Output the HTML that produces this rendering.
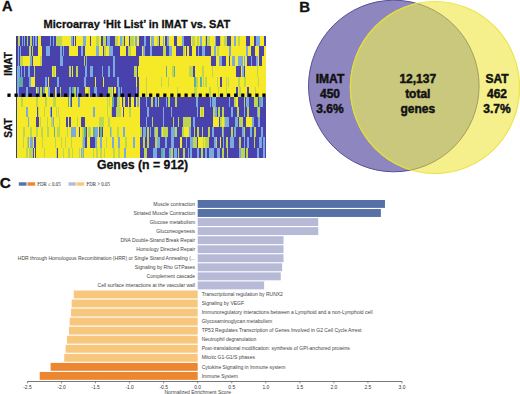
<!DOCTYPE html>
<html><head><meta charset="utf-8"><style>
html,body{margin:0;padding:0;background:#fff;}
body{width:520px;height:394px;overflow:hidden;position:relative;font-family:"Liberation Sans",sans-serif;}
.ab{position:absolute;white-space:nowrap;}
.lb{font-family:"Liberation Sans",sans-serif;font-size:5.02px;fill:#444;}
.tk{font-family:"Liberation Sans",sans-serif;font-size:4.9px;fill:#333;}
svg text{white-space:pre;}
</style></head><body>
<svg width="520" height="394" viewBox="0 0 520 394" style="position:absolute;left:0;top:0">
<g font-family="Liberation Sans" font-weight="bold" fill="#111" stroke="#111" stroke-width="0.3">
<text x="2.1" y="11.4" font-size="14.6">A</text>
<text x="299.2" y="11.9" font-size="15">B</text>
<text x="-0.2" y="187.6" font-size="15.3">C</text>
<text x="136.9" y="27.5" font-size="11" text-anchor="middle">Microarray ‘Hit List’ in IMAT vs. SAT</text>
<text x="142.6" y="169.4" font-size="12.3" text-anchor="middle">Genes (n = 912)</text>
<text transform="translate(12,64) rotate(-90)" font-size="10" text-anchor="middle">IMAT</text>
<text transform="translate(12.2,128) rotate(-90)" font-size="10" text-anchor="middle">SAT</text>
</g>
<g id="heat" shape-rendering="crispEdges">
<rect x="16.2" y="36.0" width="249.3" height="121.69999999999999" fill="#4a42ac"/>
<rect x="17.7" y="36.00" width="2.5" height="10.14" fill="#bcd652"/>
<rect x="22.2" y="36.00" width="1.0" height="10.14" fill="#7aaade"/>
<rect x="23.7" y="36.00" width="1.0" height="10.14" fill="#7aaade"/>
<rect x="26.7" y="36.00" width="1.5" height="10.14" fill="#bcd652"/>
<rect x="30.2" y="36.00" width="1.5" height="10.14" fill="#bcd652"/>
<rect x="32.7" y="36.00" width="1.5" height="10.14" fill="#7aaade"/>
<rect x="35.2" y="36.00" width="1.5" height="10.14" fill="#7aaade"/>
<rect x="38.2" y="36.00" width="1.5" height="10.14" fill="#f6ea28"/>
<rect x="40.2" y="36.00" width="1.0" height="10.14" fill="#f6ea28"/>
<rect x="49.7" y="36.00" width="1.5" height="10.14" fill="#7aaade"/>
<rect x="52.7" y="36.00" width="1.5" height="10.14" fill="#7aaade"/>
<rect x="56.2" y="36.00" width="5.5" height="10.14" fill="#bcd652"/>
<rect x="62.2" y="36.00" width="9.0" height="10.14" fill="#f6ea28"/>
<rect x="71.2" y="36.00" width="1.5" height="10.14" fill="#7aaade"/>
<rect x="72.7" y="36.00" width="0.5" height="10.14" fill="#f6ea28"/>
<rect x="73.7" y="36.00" width="1.5" height="10.14" fill="#f6ea28"/>
<rect x="76.2" y="36.00" width="7.0" height="10.14" fill="#f6ea28"/>
<rect x="83.2" y="36.00" width="2.5" height="10.14" fill="#7aaade"/>
<rect x="85.7" y="36.00" width="4.0" height="10.14" fill="#f6ea28"/>
<rect x="91.2" y="36.00" width="4.5" height="10.14" fill="#f6ea28"/>
<rect x="96.2" y="36.00" width="2.5" height="10.14" fill="#bcd652"/>
<rect x="99.2" y="36.00" width="2.0" height="10.14" fill="#f6ea28"/>
<rect x="103.2" y="36.00" width="3.0" height="10.14" fill="#bcd652"/>
<rect x="106.7" y="36.00" width="3.5" height="10.14" fill="#7aaade"/>
<rect x="115.2" y="36.00" width="3.0" height="10.14" fill="#bcd652"/>
<rect x="118.2" y="36.00" width="1.5" height="10.14" fill="#f6ea28"/>
<rect x="119.7" y="36.00" width="2.0" height="10.14" fill="#7aaade"/>
<rect x="121.7" y="36.00" width="2.0" height="10.14" fill="#bcd652"/>
<rect x="124.7" y="36.00" width="4.5" height="10.14" fill="#f6ea28"/>
<rect x="129.7" y="36.00" width="4.0" height="10.14" fill="#bcd652"/>
<rect x="133.7" y="36.00" width="1.5" height="10.14" fill="#f6ea28"/>
<rect x="135.2" y="36.00" width="1.5" height="10.14" fill="#7aaade"/>
<rect x="136.7" y="36.00" width="2.0" height="10.14" fill="#f6ea28"/>
<rect x="143.7" y="36.00" width="2.5" height="10.14" fill="#7aaade"/>
<rect x="149.7" y="36.00" width="1.0" height="10.14" fill="#f6ea28"/>
<rect x="150.7" y="36.00" width="3.0" height="10.14" fill="#7aaade"/>
<rect x="153.7" y="36.00" width="3.5" height="10.14" fill="#f6ea28"/>
<rect x="157.2" y="36.00" width="2.0" height="10.14" fill="#bcd652"/>
<rect x="160.2" y="36.00" width="2.5" height="10.14" fill="#f6ea28"/>
<rect x="162.7" y="36.00" width="1.5" height="10.14" fill="#7aaade"/>
<rect x="164.2" y="36.00" width="0.5" height="10.14" fill="#f6ea28"/>
<rect x="166.7" y="36.00" width="2.0" height="10.14" fill="#7aaade"/>
<rect x="168.7" y="36.00" width="5.5" height="10.14" fill="#f6ea28"/>
<rect x="177.2" y="36.00" width="5.0" height="10.14" fill="#f6ea28"/>
<rect x="182.2" y="36.00" width="2.0" height="10.14" fill="#7aaade"/>
<rect x="190.7" y="36.00" width="1.5" height="10.14" fill="#f6ea28"/>
<rect x="192.2" y="36.00" width="3.0" height="10.14" fill="#bcd652"/>
<rect x="195.2" y="36.00" width="1.5" height="10.14" fill="#f6ea28"/>
<rect x="196.7" y="36.00" width="2.5" height="10.14" fill="#bcd652"/>
<rect x="199.2" y="36.00" width="1.0" height="10.14" fill="#f6ea28"/>
<rect x="200.2" y="36.00" width="2.0" height="10.14" fill="#7aaade"/>
<rect x="202.2" y="36.00" width="3.0" height="10.14" fill="#f6ea28"/>
<rect x="205.2" y="36.00" width="0.5" height="10.14" fill="#bcd652"/>
<rect x="206.7" y="36.00" width="3.0" height="10.14" fill="#bcd652"/>
<rect x="209.7" y="36.00" width="5.0" height="10.14" fill="#f6ea28"/>
<rect x="214.7" y="36.00" width="1.5" height="10.14" fill="#7aaade"/>
<rect x="220.2" y="36.00" width="1.0" height="10.14" fill="#bcd652"/>
<rect x="221.2" y="36.00" width="2.5" height="10.14" fill="#f6ea28"/>
<rect x="223.7" y="36.00" width="3.0" height="10.14" fill="#bcd652"/>
<rect x="226.7" y="36.00" width="0.5" height="10.14" fill="#f6ea28"/>
<rect x="230.7" y="36.00" width="3.0" height="10.14" fill="#f6ea28"/>
<rect x="233.7" y="36.00" width="2.0" height="10.14" fill="#7aaade"/>
<rect x="235.7" y="36.00" width="2.0" height="10.14" fill="#f6ea28"/>
<rect x="237.7" y="36.00" width="2.0" height="10.14" fill="#bcd652"/>
<rect x="239.7" y="36.00" width="6.0" height="10.14" fill="#f6ea28"/>
<rect x="249.7" y="36.00" width="4.0" height="10.14" fill="#f6ea28"/>
<rect x="256.2" y="36.00" width="4.0" height="10.14" fill="#7aaade"/>
<rect x="260.2" y="36.00" width="4.0" height="10.14" fill="#f6ea28"/>
<rect x="17.7" y="46.14" width="1.5" height="10.14" fill="#7aaade"/>
<rect x="19.7" y="46.14" width="1.5" height="10.14" fill="#7aaade"/>
<rect x="29.2" y="46.14" width="1.5" height="10.14" fill="#bcd652"/>
<rect x="31.7" y="46.14" width="1.5" height="10.14" fill="#bcd652"/>
<rect x="38.2" y="46.14" width="1.5" height="10.14" fill="#f6ea28"/>
<rect x="40.2" y="46.14" width="1.5" height="10.14" fill="#f6ea28"/>
<rect x="46.2" y="46.14" width="1.5" height="10.14" fill="#7aaade"/>
<rect x="48.2" y="46.14" width="1.5" height="10.14" fill="#7aaade"/>
<rect x="60.2" y="46.14" width="1.5" height="10.14" fill="#7aaade"/>
<rect x="62.7" y="46.14" width="1.5" height="10.14" fill="#7aaade"/>
<rect x="69.2" y="46.14" width="8.5" height="10.14" fill="#f6ea28"/>
<rect x="81.2" y="46.14" width="1.5" height="10.14" fill="#7aaade"/>
<rect x="85.2" y="46.14" width="10.5" height="10.14" fill="#f6ea28"/>
<rect x="96.2" y="46.14" width="2.5" height="10.14" fill="#7aaade"/>
<rect x="99.2" y="46.14" width="3.5" height="10.14" fill="#f6ea28"/>
<rect x="104.2" y="46.14" width="1.5" height="10.14" fill="#bcd652"/>
<rect x="106.2" y="46.14" width="3.0" height="10.14" fill="#f6ea28"/>
<rect x="109.2" y="46.14" width="1.5" height="10.14" fill="#7aaade"/>
<rect x="111.2" y="46.14" width="1.5" height="10.14" fill="#7aaade"/>
<rect x="119.7" y="46.14" width="6.0" height="10.14" fill="#f6ea28"/>
<rect x="127.7" y="46.14" width="3.0" height="10.14" fill="#bcd652"/>
<rect x="131.2" y="46.14" width="5.0" height="10.14" fill="#f6ea28"/>
<rect x="142.2" y="46.14" width="0.5" height="10.14" fill="#f6ea28"/>
<rect x="142.7" y="46.14" width="2.0" height="10.14" fill="#7aaade"/>
<rect x="149.7" y="46.14" width="0.5" height="10.14" fill="#f6ea28"/>
<rect x="150.2" y="46.14" width="1.5" height="10.14" fill="#7aaade"/>
<rect x="162.7" y="46.14" width="0.5" height="10.14" fill="#f6ea28"/>
<rect x="163.2" y="46.14" width="2.5" height="10.14" fill="#bcd652"/>
<rect x="168.7" y="46.14" width="0.5" height="10.14" fill="#f6ea28"/>
<rect x="169.2" y="46.14" width="2.5" height="10.14" fill="#7aaade"/>
<rect x="171.7" y="46.14" width="4.5" height="10.14" fill="#f6ea28"/>
<rect x="182.7" y="46.14" width="2.5" height="10.14" fill="#bcd652"/>
<rect x="185.2" y="46.14" width="1.0" height="10.14" fill="#f6ea28"/>
<rect x="187.2" y="46.14" width="1.5" height="10.14" fill="#f6ea28"/>
<rect x="192.2" y="46.14" width="4.0" height="10.14" fill="#f6ea28"/>
<rect x="197.7" y="46.14" width="1.0" height="10.14" fill="#7aaade"/>
<rect x="202.2" y="46.14" width="2.5" height="10.14" fill="#7aaade"/>
<rect x="211.2" y="46.14" width="2.5" height="10.14" fill="#f6ea28"/>
<rect x="213.7" y="46.14" width="2.0" height="10.14" fill="#7aaade"/>
<rect x="215.7" y="46.14" width="1.0" height="10.14" fill="#f6ea28"/>
<rect x="216.7" y="46.14" width="2.0" height="10.14" fill="#bcd652"/>
<rect x="218.7" y="46.14" width="10.5" height="10.14" fill="#f6ea28"/>
<rect x="229.2" y="46.14" width="1.5" height="10.14" fill="#7aaade"/>
<rect x="230.7" y="46.14" width="15.5" height="10.14" fill="#f6ea28"/>
<rect x="246.2" y="46.14" width="1.5" height="10.14" fill="#7aaade"/>
<rect x="247.7" y="46.14" width="3.5" height="10.14" fill="#f6ea28"/>
<rect x="254.7" y="46.14" width="4.0" height="10.14" fill="#f6ea28"/>
<rect x="264.2" y="46.14" width="1.5" height="10.14" fill="#f6ea28"/>
<rect x="17.7" y="56.28" width="1.5" height="10.14" fill="#7aaade"/>
<rect x="19.7" y="56.28" width="3.0" height="10.14" fill="#bcd652"/>
<rect x="22.7" y="56.28" width="7.0" height="10.14" fill="#f6ea28"/>
<rect x="29.7" y="56.28" width="2.0" height="10.14" fill="#7aaade"/>
<rect x="33.2" y="56.28" width="7.0" height="10.14" fill="#f6ea28"/>
<rect x="40.2" y="56.28" width="2.0" height="10.14" fill="#bcd652"/>
<rect x="60.2" y="56.28" width="2.5" height="10.14" fill="#7aaade"/>
<rect x="83.7" y="56.28" width="1.5" height="10.14" fill="#bcd652"/>
<rect x="85.7" y="56.28" width="1.5" height="10.14" fill="#7aaade"/>
<rect x="113.2" y="56.28" width="1.5" height="10.14" fill="#7aaade"/>
<rect x="138.7" y="56.28" width="72.5" height="10.14" fill="#f6ea28"/>
<rect x="215.7" y="56.28" width="3.5" height="10.14" fill="#f6ea28"/>
<rect x="219.2" y="56.28" width="3.0" height="10.14" fill="#7aaade"/>
<rect x="226.2" y="56.28" width="3.0" height="10.14" fill="#f6ea28"/>
<rect x="230.2" y="56.28" width="1.5" height="10.14" fill="#f6ea28"/>
<rect x="231.7" y="56.28" width="3.5" height="10.14" fill="#7aaade"/>
<rect x="235.2" y="56.28" width="2.5" height="10.14" fill="#f6ea28"/>
<rect x="237.7" y="56.28" width="2.0" height="10.14" fill="#7aaade"/>
<rect x="239.7" y="56.28" width="0.5" height="10.14" fill="#f6ea28"/>
<rect x="240.2" y="56.28" width="2.5" height="10.14" fill="#7aaade"/>
<rect x="242.7" y="56.28" width="1.0" height="10.14" fill="#f6ea28"/>
<rect x="243.7" y="56.28" width="1.5" height="10.14" fill="#7aaade"/>
<rect x="245.2" y="56.28" width="2.0" height="10.14" fill="#f6ea28"/>
<rect x="251.2" y="56.28" width="1.0" height="10.14" fill="#7aaade"/>
<rect x="255.7" y="56.28" width="2.0" height="10.14" fill="#7aaade"/>
<rect x="257.7" y="56.28" width="1.0" height="10.14" fill="#f6ea28"/>
<rect x="262.2" y="56.28" width="3.5" height="10.14" fill="#f6ea28"/>
<rect x="17.2" y="66.42" width="2.5" height="10.14" fill="#7aaade"/>
<rect x="20.7" y="66.42" width="1.0" height="10.14" fill="#7aaade"/>
<rect x="23.7" y="66.42" width="1.0" height="10.14" fill="#7aaade"/>
<rect x="27.7" y="66.42" width="2.5" height="10.14" fill="#7aaade"/>
<rect x="33.7" y="66.42" width="1.0" height="10.14" fill="#bcd652"/>
<rect x="51.7" y="66.42" width="1.0" height="10.14" fill="#f6ea28"/>
<rect x="52.7" y="66.42" width="2.0" height="10.14" fill="#bcd652"/>
<rect x="54.7" y="66.42" width="1.0" height="10.14" fill="#f6ea28"/>
<rect x="69.2" y="66.42" width="2.0" height="10.14" fill="#bcd652"/>
<rect x="72.2" y="66.42" width="1.0" height="10.14" fill="#f6ea28"/>
<rect x="76.2" y="66.42" width="1.5" height="10.14" fill="#bcd652"/>
<rect x="85.2" y="66.42" width="2.0" height="10.14" fill="#7aaade"/>
<rect x="90.2" y="66.42" width="3.0" height="10.14" fill="#7aaade"/>
<rect x="102.2" y="66.42" width="1.0" height="10.14" fill="#7aaade"/>
<rect x="108.2" y="66.42" width="1.5" height="10.14" fill="#7aaade"/>
<rect x="113.2" y="66.42" width="1.5" height="10.14" fill="#7aaade"/>
<rect x="134.2" y="66.42" width="3.0" height="10.14" fill="#bcd652"/>
<rect x="138.2" y="66.42" width="27.5" height="10.14" fill="#f6ea28"/>
<rect x="165.7" y="66.42" width="1.5" height="10.14" fill="#60aca0"/>
<rect x="167.2" y="66.42" width="5.0" height="10.14" fill="#f6ea28"/>
<rect x="172.2" y="66.42" width="1.5" height="10.14" fill="#bcd652"/>
<rect x="173.7" y="66.42" width="0.5" height="10.14" fill="#f6ea28"/>
<rect x="174.2" y="66.42" width="1.0" height="10.14" fill="#60aca0"/>
<rect x="175.2" y="66.42" width="13.5" height="10.14" fill="#f6ea28"/>
<rect x="188.7" y="66.42" width="4.0" height="10.14" fill="#bcd652"/>
<rect x="195.2" y="66.42" width="6.5" height="10.14" fill="#f6ea28"/>
<rect x="201.7" y="66.42" width="2.5" height="10.14" fill="#bcd652"/>
<rect x="204.2" y="66.42" width="7.5" height="10.14" fill="#f6ea28"/>
<rect x="211.7" y="66.42" width="1.5" height="10.14" fill="#bcd652"/>
<rect x="213.2" y="66.42" width="23.0" height="10.14" fill="#f6ea28"/>
<rect x="241.2" y="66.42" width="0.5" height="10.14" fill="#f6ea28"/>
<rect x="241.7" y="66.42" width="2.0" height="10.14" fill="#7aaade"/>
<rect x="245.2" y="66.42" width="11.5" height="10.14" fill="#f6ea28"/>
<rect x="256.7" y="66.42" width="1.5" height="10.14" fill="#bcd652"/>
<rect x="258.2" y="66.42" width="7.5" height="10.14" fill="#f6ea28"/>
<rect x="17.2" y="76.57" width="1.5" height="10.14" fill="#7aaade"/>
<rect x="19.2" y="76.57" width="3.5" height="10.14" fill="#60aca0"/>
<rect x="29.2" y="76.57" width="1.5" height="10.14" fill="#7aaade"/>
<rect x="31.2" y="76.57" width="3.5" height="10.14" fill="#f6ea28"/>
<rect x="45.2" y="76.57" width="1.5" height="10.14" fill="#7aaade"/>
<rect x="47.7" y="76.57" width="1.5" height="10.14" fill="#f6ea28"/>
<rect x="56.7" y="76.57" width="2.0" height="10.14" fill="#7aaade"/>
<rect x="83.7" y="76.57" width="2.0" height="10.14" fill="#7aaade"/>
<rect x="94.7" y="76.57" width="1.5" height="10.14" fill="#f6ea28"/>
<rect x="102.7" y="76.57" width="1.5" height="10.14" fill="#f6ea28"/>
<rect x="117.2" y="76.57" width="2.0" height="10.14" fill="#7aaade"/>
<rect x="136.2" y="76.57" width="0.5" height="10.14" fill="#f6ea28"/>
<rect x="138.7" y="76.57" width="7.0" height="10.14" fill="#f6ea28"/>
<rect x="145.7" y="76.57" width="1.0" height="10.14" fill="#bcd652"/>
<rect x="146.7" y="76.57" width="14.0" height="10.14" fill="#f6ea28"/>
<rect x="160.7" y="76.57" width="1.5" height="10.14" fill="#bcd652"/>
<rect x="162.2" y="76.57" width="5.5" height="10.14" fill="#f6ea28"/>
<rect x="167.7" y="76.57" width="1.5" height="10.14" fill="#bcd652"/>
<rect x="169.2" y="76.57" width="25.0" height="10.14" fill="#f6ea28"/>
<rect x="194.2" y="76.57" width="2.0" height="10.14" fill="#60aca0"/>
<rect x="196.2" y="76.57" width="1.5" height="10.14" fill="#bcd652"/>
<rect x="197.7" y="76.57" width="2.5" height="10.14" fill="#f6ea28"/>
<rect x="200.2" y="76.57" width="1.5" height="10.14" fill="#60aca0"/>
<rect x="201.7" y="76.57" width="1.0" height="10.14" fill="#f6ea28"/>
<rect x="202.7" y="76.57" width="1.5" height="10.14" fill="#bcd652"/>
<rect x="204.2" y="76.57" width="1.0" height="10.14" fill="#f6ea28"/>
<rect x="205.2" y="76.57" width="1.5" height="10.14" fill="#bcd652"/>
<rect x="206.7" y="76.57" width="10.5" height="10.14" fill="#f6ea28"/>
<rect x="217.2" y="76.57" width="1.0" height="10.14" fill="#bcd652"/>
<rect x="218.2" y="76.57" width="2.0" height="10.14" fill="#f6ea28"/>
<rect x="221.7" y="76.57" width="4.0" height="10.14" fill="#f6ea28"/>
<rect x="225.7" y="76.57" width="1.0" height="10.14" fill="#bcd652"/>
<rect x="226.7" y="76.57" width="1.0" height="10.14" fill="#f6ea28"/>
<rect x="227.7" y="76.57" width="1.5" height="10.14" fill="#bcd652"/>
<rect x="229.2" y="76.57" width="9.0" height="10.14" fill="#f6ea28"/>
<rect x="238.2" y="76.57" width="1.5" height="10.14" fill="#bcd652"/>
<rect x="239.7" y="76.57" width="4.0" height="10.14" fill="#f6ea28"/>
<rect x="243.7" y="76.57" width="2.0" height="10.14" fill="#bcd652"/>
<rect x="245.7" y="76.57" width="12.5" height="10.14" fill="#f6ea28"/>
<rect x="258.2" y="76.57" width="1.0" height="10.14" fill="#bcd652"/>
<rect x="259.2" y="76.57" width="6.5" height="10.14" fill="#f6ea28"/>
<rect x="17.2" y="86.71" width="1.5" height="10.14" fill="#7aaade"/>
<rect x="26.2" y="86.71" width="1.5" height="10.14" fill="#7aaade"/>
<rect x="35.7" y="86.71" width="1.5" height="10.14" fill="#f6ea28"/>
<rect x="37.2" y="86.71" width="1.5" height="10.14" fill="#7aaade"/>
<rect x="38.7" y="86.71" width="0.5" height="10.14" fill="#f6ea28"/>
<rect x="39.7" y="86.71" width="2.0" height="10.14" fill="#bcd652"/>
<rect x="43.2" y="86.71" width="2.0" height="10.14" fill="#60aca0"/>
<rect x="45.2" y="86.71" width="3.0" height="10.14" fill="#f6ea28"/>
<rect x="48.2" y="86.71" width="1.5" height="10.14" fill="#7aaade"/>
<rect x="54.7" y="86.71" width="1.0" height="10.14" fill="#f6ea28"/>
<rect x="55.7" y="86.71" width="1.0" height="10.14" fill="#7aaade"/>
<rect x="59.7" y="86.71" width="1.5" height="10.14" fill="#bcd652"/>
<rect x="69.2" y="86.71" width="1.5" height="10.14" fill="#7aaade"/>
<rect x="72.2" y="86.71" width="2.0" height="10.14" fill="#60aca0"/>
<rect x="74.2" y="86.71" width="2.0" height="10.14" fill="#bcd652"/>
<rect x="77.2" y="86.71" width="1.5" height="10.14" fill="#7aaade"/>
<rect x="85.2" y="86.71" width="3.0" height="10.14" fill="#f6ea28"/>
<rect x="88.2" y="86.71" width="1.5" height="10.14" fill="#bcd652"/>
<rect x="93.7" y="86.71" width="3.5" height="10.14" fill="#7aaade"/>
<rect x="108.2" y="86.71" width="3.5" height="10.14" fill="#bcd652"/>
<rect x="111.7" y="86.71" width="1.0" height="10.14" fill="#f6ea28"/>
<rect x="114.2" y="86.71" width="1.5" height="10.14" fill="#f6ea28"/>
<rect x="118.2" y="86.71" width="2.0" height="10.14" fill="#7aaade"/>
<rect x="120.7" y="86.71" width="1.0" height="10.14" fill="#7aaade"/>
<rect x="136.2" y="86.71" width="1.0" height="10.14" fill="#7aaade"/>
<rect x="138.7" y="86.71" width="7.0" height="10.14" fill="#f6ea28"/>
<rect x="145.7" y="86.71" width="1.5" height="10.14" fill="#bcd652"/>
<rect x="147.2" y="86.71" width="29.5" height="10.14" fill="#f6ea28"/>
<rect x="176.7" y="86.71" width="1.0" height="10.14" fill="#bcd652"/>
<rect x="177.7" y="86.71" width="16.0" height="10.14" fill="#f6ea28"/>
<rect x="193.7" y="86.71" width="2.0" height="10.14" fill="#bcd652"/>
<rect x="195.7" y="86.71" width="0.5" height="10.14" fill="#f6ea28"/>
<rect x="196.2" y="86.71" width="1.0" height="10.14" fill="#bcd652"/>
<rect x="197.2" y="86.71" width="11.5" height="10.14" fill="#f6ea28"/>
<rect x="208.7" y="86.71" width="2.0" height="10.14" fill="#bcd652"/>
<rect x="210.7" y="86.71" width="7.0" height="10.14" fill="#f6ea28"/>
<rect x="217.7" y="86.71" width="1.0" height="10.14" fill="#bcd652"/>
<rect x="218.7" y="86.71" width="7.0" height="10.14" fill="#f6ea28"/>
<rect x="225.7" y="86.71" width="1.0" height="10.14" fill="#bcd652"/>
<rect x="226.7" y="86.71" width="9.5" height="10.14" fill="#f6ea28"/>
<rect x="238.2" y="86.71" width="0.5" height="10.14" fill="#f6ea28"/>
<rect x="238.7" y="86.71" width="2.0" height="10.14" fill="#bcd652"/>
<rect x="240.7" y="86.71" width="6.5" height="10.14" fill="#f6ea28"/>
<rect x="248.7" y="86.71" width="6.5" height="10.14" fill="#f6ea28"/>
<rect x="255.2" y="86.71" width="1.0" height="10.14" fill="#bcd652"/>
<rect x="256.2" y="86.71" width="9.5" height="10.14" fill="#f6ea28"/>
<rect x="17.2" y="96.85" width="4.0" height="10.14" fill="#f6ea28"/>
<rect x="21.2" y="96.85" width="1.5" height="10.14" fill="#bcd652"/>
<rect x="22.7" y="96.85" width="13.0" height="10.14" fill="#f6ea28"/>
<rect x="35.7" y="96.85" width="2.0" height="10.14" fill="#bcd652"/>
<rect x="37.7" y="96.85" width="7.5" height="10.14" fill="#f6ea28"/>
<rect x="45.2" y="96.85" width="1.5" height="10.14" fill="#bcd652"/>
<rect x="46.7" y="96.85" width="6.5" height="10.14" fill="#f6ea28"/>
<rect x="53.2" y="96.85" width="3.0" height="10.14" fill="#bcd652"/>
<rect x="56.2" y="96.85" width="11.5" height="10.14" fill="#f6ea28"/>
<rect x="67.7" y="96.85" width="1.5" height="10.14" fill="#60aca0"/>
<rect x="69.2" y="96.85" width="0.5" height="10.14" fill="#f6ea28"/>
<rect x="69.7" y="96.85" width="1.5" height="10.14" fill="#60aca0"/>
<rect x="72.2" y="96.85" width="5.5" height="10.14" fill="#f6ea28"/>
<rect x="77.7" y="96.85" width="1.0" height="10.14" fill="#60aca0"/>
<rect x="78.7" y="96.85" width="1.5" height="10.14" fill="#7aaade"/>
<rect x="80.2" y="96.85" width="26.5" height="10.14" fill="#f6ea28"/>
<rect x="106.7" y="96.85" width="1.5" height="10.14" fill="#bcd652"/>
<rect x="108.2" y="96.85" width="0.5" height="10.14" fill="#f6ea28"/>
<rect x="108.7" y="96.85" width="1.5" height="10.14" fill="#bcd652"/>
<rect x="110.2" y="96.85" width="2.0" height="10.14" fill="#f6ea28"/>
<rect x="112.2" y="96.85" width="1.5" height="10.14" fill="#60aca0"/>
<rect x="116.7" y="96.85" width="3.5" height="10.14" fill="#bcd652"/>
<rect x="120.2" y="96.85" width="1.5" height="10.14" fill="#f6ea28"/>
<rect x="123.2" y="96.85" width="0.5" height="10.14" fill="#bcd652"/>
<rect x="123.7" y="96.85" width="1.0" height="10.14" fill="#f6ea28"/>
<rect x="127.7" y="96.85" width="1.0" height="10.14" fill="#f6ea28"/>
<rect x="130.7" y="96.85" width="3.0" height="10.14" fill="#f6ea28"/>
<rect x="136.2" y="96.85" width="1.0" height="10.14" fill="#f6ea28"/>
<rect x="137.2" y="96.85" width="2.0" height="10.14" fill="#7aaade"/>
<rect x="139.2" y="96.85" width="0.5" height="10.14" fill="#f6ea28"/>
<rect x="145.7" y="96.85" width="1.0" height="10.14" fill="#7aaade"/>
<rect x="150.7" y="96.85" width="2.0" height="10.14" fill="#bcd652"/>
<rect x="155.2" y="96.85" width="1.5" height="10.14" fill="#7aaade"/>
<rect x="157.7" y="96.85" width="1.5" height="10.14" fill="#bcd652"/>
<rect x="166.2" y="96.85" width="1.0" height="10.14" fill="#7aaade"/>
<rect x="168.2" y="96.85" width="2.0" height="10.14" fill="#bcd652"/>
<rect x="174.7" y="96.85" width="2.0" height="10.14" fill="#bcd652"/>
<rect x="196.2" y="96.85" width="2.0" height="10.14" fill="#7aaade"/>
<rect x="209.7" y="96.85" width="1.0" height="10.14" fill="#7aaade"/>
<rect x="211.7" y="96.85" width="4.0" height="10.14" fill="#7aaade"/>
<rect x="229.2" y="96.85" width="1.0" height="10.14" fill="#7aaade"/>
<rect x="233.7" y="96.85" width="2.0" height="10.14" fill="#bcd652"/>
<rect x="235.7" y="96.85" width="2.5" height="10.14" fill="#f6ea28"/>
<rect x="243.7" y="96.85" width="1.0" height="10.14" fill="#bcd652"/>
<rect x="246.2" y="96.85" width="2.5" height="10.14" fill="#7aaade"/>
<rect x="253.7" y="96.85" width="2.0" height="10.14" fill="#bcd652"/>
<rect x="256.2" y="96.85" width="2.0" height="10.14" fill="#bcd652"/>
<rect x="259.2" y="96.85" width="1.5" height="10.14" fill="#60aca0"/>
<rect x="261.2" y="96.85" width="2.0" height="10.14" fill="#7aaade"/>
<rect x="17.2" y="106.99" width="8.5" height="10.14" fill="#f6ea28"/>
<rect x="25.7" y="106.99" width="2.0" height="10.14" fill="#7aaade"/>
<rect x="27.7" y="106.99" width="9.5" height="10.14" fill="#f6ea28"/>
<rect x="38.2" y="106.99" width="0.5" height="10.14" fill="#bcd652"/>
<rect x="38.7" y="106.99" width="5.5" height="10.14" fill="#f6ea28"/>
<rect x="44.2" y="106.99" width="1.0" height="10.14" fill="#bcd652"/>
<rect x="45.2" y="106.99" width="4.5" height="10.14" fill="#f6ea28"/>
<rect x="49.7" y="106.99" width="1.0" height="10.14" fill="#7aaade"/>
<rect x="51.7" y="106.99" width="4.5" height="10.14" fill="#f6ea28"/>
<rect x="56.2" y="106.99" width="1.0" height="10.14" fill="#bcd652"/>
<rect x="57.2" y="106.99" width="0.5" height="10.14" fill="#f6ea28"/>
<rect x="57.7" y="106.99" width="1.5" height="10.14" fill="#bcd652"/>
<rect x="59.2" y="106.99" width="34.0" height="10.14" fill="#f6ea28"/>
<rect x="93.2" y="106.99" width="2.0" height="10.14" fill="#7aaade"/>
<rect x="95.2" y="106.99" width="11.5" height="10.14" fill="#f6ea28"/>
<rect x="106.7" y="106.99" width="1.5" height="10.14" fill="#bcd652"/>
<rect x="108.2" y="106.99" width="3.0" height="10.14" fill="#f6ea28"/>
<rect x="111.2" y="106.99" width="1.0" height="10.14" fill="#bcd652"/>
<rect x="113.7" y="106.99" width="0.5" height="10.14" fill="#f6ea28"/>
<rect x="115.7" y="106.99" width="5.0" height="10.14" fill="#bcd652"/>
<rect x="120.7" y="106.99" width="0.5" height="10.14" fill="#7aaade"/>
<rect x="121.2" y="106.99" width="1.5" height="10.14" fill="#f6ea28"/>
<rect x="124.2" y="106.99" width="4.5" height="10.14" fill="#f6ea28"/>
<rect x="128.7" y="106.99" width="2.0" height="10.14" fill="#bcd652"/>
<rect x="131.2" y="106.99" width="8.5" height="10.14" fill="#f6ea28"/>
<rect x="147.2" y="106.99" width="1.5" height="10.14" fill="#7aaade"/>
<rect x="163.2" y="106.99" width="1.0" height="10.14" fill="#7aaade"/>
<rect x="171.2" y="106.99" width="1.0" height="10.14" fill="#7aaade"/>
<rect x="196.7" y="106.99" width="1.0" height="10.14" fill="#7aaade"/>
<rect x="199.7" y="106.99" width="1.5" height="10.14" fill="#f6ea28"/>
<rect x="201.2" y="106.99" width="1.5" height="10.14" fill="#bcd652"/>
<rect x="202.7" y="106.99" width="1.0" height="10.14" fill="#f6ea28"/>
<rect x="213.2" y="106.99" width="1.5" height="10.14" fill="#bcd652"/>
<rect x="214.7" y="106.99" width="2.0" height="10.14" fill="#7aaade"/>
<rect x="218.2" y="106.99" width="2.0" height="10.14" fill="#bcd652"/>
<rect x="221.7" y="106.99" width="2.5" height="10.14" fill="#bcd652"/>
<rect x="230.7" y="106.99" width="2.5" height="10.14" fill="#7aaade"/>
<rect x="236.7" y="106.99" width="2.0" height="10.14" fill="#bcd652"/>
<rect x="243.7" y="106.99" width="1.0" height="10.14" fill="#7aaade"/>
<rect x="246.7" y="106.99" width="0.5" height="10.14" fill="#7aaade"/>
<rect x="247.2" y="106.99" width="2.0" height="10.14" fill="#bcd652"/>
<rect x="256.7" y="106.99" width="1.0" height="10.14" fill="#7aaade"/>
<rect x="257.7" y="106.99" width="2.5" height="10.14" fill="#bcd652"/>
<rect x="17.2" y="117.13" width="10.5" height="10.14" fill="#f6ea28"/>
<rect x="27.7" y="117.13" width="1.0" height="10.14" fill="#7aaade"/>
<rect x="28.7" y="117.13" width="7.0" height="10.14" fill="#f6ea28"/>
<rect x="39.2" y="117.13" width="0.5" height="10.14" fill="#f6ea28"/>
<rect x="39.7" y="117.13" width="1.5" height="10.14" fill="#bcd652"/>
<rect x="41.2" y="117.13" width="5.5" height="10.14" fill="#f6ea28"/>
<rect x="46.7" y="117.13" width="1.0" height="10.14" fill="#bcd652"/>
<rect x="47.7" y="117.13" width="3.5" height="10.14" fill="#f6ea28"/>
<rect x="51.2" y="117.13" width="1.5" height="10.14" fill="#bcd652"/>
<rect x="52.7" y="117.13" width="0.5" height="10.14" fill="#f6ea28"/>
<rect x="53.2" y="117.13" width="1.0" height="10.14" fill="#7aaade"/>
<rect x="54.2" y="117.13" width="5.0" height="10.14" fill="#f6ea28"/>
<rect x="59.2" y="117.13" width="1.0" height="10.14" fill="#bcd652"/>
<rect x="60.2" y="117.13" width="6.0" height="10.14" fill="#f6ea28"/>
<rect x="67.7" y="117.13" width="1.0" height="10.14" fill="#f6ea28"/>
<rect x="68.7" y="117.13" width="0.5" height="10.14" fill="#7aaade"/>
<rect x="70.7" y="117.13" width="6.0" height="10.14" fill="#f6ea28"/>
<rect x="76.7" y="117.13" width="1.5" height="10.14" fill="#bcd652"/>
<rect x="78.2" y="117.13" width="2.5" height="10.14" fill="#f6ea28"/>
<rect x="85.2" y="117.13" width="13.5" height="10.14" fill="#f6ea28"/>
<rect x="98.7" y="117.13" width="5.0" height="10.14" fill="#bcd652"/>
<rect x="103.7" y="117.13" width="4.0" height="10.14" fill="#f6ea28"/>
<rect x="107.7" y="117.13" width="2.5" height="10.14" fill="#bcd652"/>
<rect x="110.2" y="117.13" width="29.5" height="10.14" fill="#f6ea28"/>
<rect x="145.7" y="117.13" width="1.0" height="10.14" fill="#7aaade"/>
<rect x="152.2" y="117.13" width="1.0" height="10.14" fill="#bcd652"/>
<rect x="163.2" y="117.13" width="1.0" height="10.14" fill="#7aaade"/>
<rect x="172.7" y="117.13" width="1.5" height="10.14" fill="#bcd652"/>
<rect x="177.7" y="117.13" width="1.5" height="10.14" fill="#bcd652"/>
<rect x="182.7" y="117.13" width="5.0" height="10.14" fill="#bcd652"/>
<rect x="188.2" y="117.13" width="3.0" height="10.14" fill="#bcd652"/>
<rect x="192.7" y="117.13" width="2.5" height="10.14" fill="#7aaade"/>
<rect x="212.7" y="117.13" width="6.0" height="10.14" fill="#f6ea28"/>
<rect x="219.7" y="117.13" width="2.5" height="10.14" fill="#bcd652"/>
<rect x="222.2" y="117.13" width="1.5" height="10.14" fill="#f6ea28"/>
<rect x="223.7" y="117.13" width="1.0" height="10.14" fill="#bcd652"/>
<rect x="224.7" y="117.13" width="4.5" height="10.14" fill="#7aaade"/>
<rect x="235.2" y="117.13" width="2.5" height="10.14" fill="#7aaade"/>
<rect x="239.2" y="117.13" width="4.0" height="10.14" fill="#bcd652"/>
<rect x="245.7" y="117.13" width="6.0" height="10.14" fill="#f6ea28"/>
<rect x="251.7" y="117.13" width="2.0" height="10.14" fill="#7aaade"/>
<rect x="257.7" y="117.13" width="2.5" height="10.14" fill="#7aaade"/>
<rect x="17.2" y="127.27" width="6.0" height="10.14" fill="#f6ea28"/>
<rect x="23.2" y="127.27" width="1.5" height="10.14" fill="#bcd652"/>
<rect x="24.7" y="127.27" width="5.5" height="10.14" fill="#f6ea28"/>
<rect x="30.2" y="127.27" width="1.5" height="10.14" fill="#bcd652"/>
<rect x="31.7" y="127.27" width="4.0" height="10.14" fill="#f6ea28"/>
<rect x="35.7" y="127.27" width="2.0" height="10.14" fill="#bcd652"/>
<rect x="37.7" y="127.27" width="3.0" height="10.14" fill="#f6ea28"/>
<rect x="40.7" y="127.27" width="2.0" height="10.14" fill="#bcd652"/>
<rect x="42.7" y="127.27" width="4.0" height="10.14" fill="#f6ea28"/>
<rect x="46.7" y="127.27" width="2.5" height="10.14" fill="#bcd652"/>
<rect x="49.2" y="127.27" width="4.5" height="10.14" fill="#f6ea28"/>
<rect x="53.7" y="127.27" width="1.0" height="10.14" fill="#60aca0"/>
<rect x="54.7" y="127.27" width="2.0" height="10.14" fill="#f6ea28"/>
<rect x="56.7" y="127.27" width="3.0" height="10.14" fill="#bcd652"/>
<rect x="59.7" y="127.27" width="7.5" height="10.14" fill="#f6ea28"/>
<rect x="67.2" y="127.27" width="1.0" height="10.14" fill="#bcd652"/>
<rect x="68.2" y="127.27" width="3.0" height="10.14" fill="#f6ea28"/>
<rect x="71.2" y="127.27" width="4.5" height="10.14" fill="#7aaade"/>
<rect x="75.7" y="127.27" width="3.5" height="10.14" fill="#f6ea28"/>
<rect x="80.2" y="127.27" width="2.0" height="10.14" fill="#f6ea28"/>
<rect x="82.2" y="127.27" width="1.5" height="10.14" fill="#bcd652"/>
<rect x="83.7" y="127.27" width="2.5" height="10.14" fill="#60aca0"/>
<rect x="87.2" y="127.27" width="1.0" height="10.14" fill="#f6ea28"/>
<rect x="88.2" y="127.27" width="3.0" height="10.14" fill="#bcd652"/>
<rect x="91.2" y="127.27" width="2.0" height="10.14" fill="#f6ea28"/>
<rect x="93.2" y="127.27" width="1.5" height="10.14" fill="#60aca0"/>
<rect x="94.7" y="127.27" width="3.0" height="10.14" fill="#7aaade"/>
<rect x="97.7" y="127.27" width="1.5" height="10.14" fill="#f6ea28"/>
<rect x="99.7" y="127.27" width="2.0" height="10.14" fill="#60aca0"/>
<rect x="102.7" y="127.27" width="7.5" height="10.14" fill="#f6ea28"/>
<rect x="110.2" y="127.27" width="0.5" height="10.14" fill="#7aaade"/>
<rect x="110.7" y="127.27" width="1.5" height="10.14" fill="#bcd652"/>
<rect x="112.2" y="127.27" width="5.0" height="10.14" fill="#f6ea28"/>
<rect x="117.2" y="127.27" width="1.5" height="10.14" fill="#bcd652"/>
<rect x="118.7" y="127.27" width="0.5" height="10.14" fill="#7aaade"/>
<rect x="119.2" y="127.27" width="4.0" height="10.14" fill="#f6ea28"/>
<rect x="123.2" y="127.27" width="1.5" height="10.14" fill="#7aaade"/>
<rect x="124.7" y="127.27" width="15.0" height="10.14" fill="#f6ea28"/>
<rect x="139.7" y="127.27" width="2.5" height="10.14" fill="#bcd652"/>
<rect x="143.2" y="127.27" width="2.5" height="10.14" fill="#7aaade"/>
<rect x="146.7" y="127.27" width="2.5" height="10.14" fill="#bcd652"/>
<rect x="150.2" y="127.27" width="1.0" height="10.14" fill="#7aaade"/>
<rect x="153.7" y="127.27" width="1.5" height="10.14" fill="#7aaade"/>
<rect x="155.2" y="127.27" width="2.5" height="10.14" fill="#bcd652"/>
<rect x="160.7" y="127.27" width="1.5" height="10.14" fill="#7aaade"/>
<rect x="162.2" y="127.27" width="1.0" height="10.14" fill="#f6ea28"/>
<rect x="163.2" y="127.27" width="4.5" height="10.14" fill="#bcd652"/>
<rect x="171.2" y="127.27" width="2.5" height="10.14" fill="#7aaade"/>
<rect x="174.2" y="127.27" width="0.5" height="10.14" fill="#7aaade"/>
<rect x="174.7" y="127.27" width="2.0" height="10.14" fill="#bcd652"/>
<rect x="182.2" y="127.27" width="2.0" height="10.14" fill="#bcd652"/>
<rect x="184.2" y="127.27" width="4.5" height="10.14" fill="#f6ea28"/>
<rect x="188.7" y="127.27" width="2.5" height="10.14" fill="#7aaade"/>
<rect x="194.2" y="127.27" width="1.0" height="10.14" fill="#bcd652"/>
<rect x="196.7" y="127.27" width="2.5" height="10.14" fill="#bcd652"/>
<rect x="201.7" y="127.27" width="1.5" height="10.14" fill="#bcd652"/>
<rect x="207.7" y="127.27" width="2.0" height="10.14" fill="#bcd652"/>
<rect x="211.7" y="127.27" width="2.5" height="10.14" fill="#7aaade"/>
<rect x="221.7" y="127.27" width="1.0" height="10.14" fill="#bcd652"/>
<rect x="222.7" y="127.27" width="1.5" height="10.14" fill="#7aaade"/>
<rect x="231.2" y="127.27" width="2.0" height="10.14" fill="#bcd652"/>
<rect x="234.2" y="127.27" width="2.0" height="10.14" fill="#7aaade"/>
<rect x="241.7" y="127.27" width="2.0" height="10.14" fill="#7aaade"/>
<rect x="243.7" y="127.27" width="1.5" height="10.14" fill="#bcd652"/>
<rect x="250.2" y="127.27" width="1.5" height="10.14" fill="#7aaade"/>
<rect x="253.7" y="127.27" width="2.0" height="10.14" fill="#bcd652"/>
<rect x="261.2" y="127.27" width="1.5" height="10.14" fill="#7aaade"/>
<rect x="17.2" y="137.42" width="5.5" height="10.14" fill="#f6ea28"/>
<rect x="22.7" y="137.42" width="1.5" height="10.14" fill="#bcd652"/>
<rect x="24.2" y="137.42" width="2.5" height="10.14" fill="#f6ea28"/>
<rect x="26.7" y="137.42" width="1.0" height="10.14" fill="#bcd652"/>
<rect x="27.7" y="137.42" width="1.5" height="10.14" fill="#7aaade"/>
<rect x="29.2" y="137.42" width="0.5" height="10.14" fill="#f6ea28"/>
<rect x="29.7" y="137.42" width="3.0" height="10.14" fill="#7aaade"/>
<rect x="32.7" y="137.42" width="1.5" height="10.14" fill="#f6ea28"/>
<rect x="35.7" y="137.42" width="6.0" height="10.14" fill="#f6ea28"/>
<rect x="41.7" y="137.42" width="1.5" height="10.14" fill="#bcd652"/>
<rect x="43.2" y="137.42" width="11.5" height="10.14" fill="#f6ea28"/>
<rect x="54.7" y="137.42" width="1.5" height="10.14" fill="#bcd652"/>
<rect x="56.2" y="137.42" width="5.0" height="10.14" fill="#f6ea28"/>
<rect x="61.2" y="137.42" width="1.0" height="10.14" fill="#bcd652"/>
<rect x="62.2" y="137.42" width="2.5" height="10.14" fill="#f6ea28"/>
<rect x="64.7" y="137.42" width="1.5" height="10.14" fill="#bcd652"/>
<rect x="66.2" y="137.42" width="4.5" height="10.14" fill="#f6ea28"/>
<rect x="70.7" y="137.42" width="1.0" height="10.14" fill="#bcd652"/>
<rect x="71.7" y="137.42" width="10.0" height="10.14" fill="#f6ea28"/>
<rect x="81.7" y="137.42" width="1.0" height="10.14" fill="#bcd652"/>
<rect x="82.7" y="137.42" width="0.5" height="10.14" fill="#f6ea28"/>
<rect x="83.2" y="137.42" width="1.5" height="10.14" fill="#7aaade"/>
<rect x="84.7" y="137.42" width="0.5" height="10.14" fill="#f6ea28"/>
<rect x="86.7" y="137.42" width="3.0" height="10.14" fill="#f6ea28"/>
<rect x="94.7" y="137.42" width="0.5" height="10.14" fill="#f6ea28"/>
<rect x="95.2" y="137.42" width="2.0" height="10.14" fill="#7aaade"/>
<rect x="97.2" y="137.42" width="2.5" height="10.14" fill="#f6ea28"/>
<rect x="99.7" y="137.42" width="2.0" height="10.14" fill="#7aaade"/>
<rect x="101.7" y="137.42" width="4.0" height="10.14" fill="#f6ea28"/>
<rect x="105.7" y="137.42" width="1.5" height="10.14" fill="#bcd652"/>
<rect x="107.2" y="137.42" width="5.0" height="10.14" fill="#f6ea28"/>
<rect x="112.2" y="137.42" width="2.0" height="10.14" fill="#7aaade"/>
<rect x="114.2" y="137.42" width="3.5" height="10.14" fill="#f6ea28"/>
<rect x="117.7" y="137.42" width="2.0" height="10.14" fill="#7aaade"/>
<rect x="119.7" y="137.42" width="5.5" height="10.14" fill="#f6ea28"/>
<rect x="125.2" y="137.42" width="2.0" height="10.14" fill="#bcd652"/>
<rect x="127.2" y="137.42" width="5.5" height="10.14" fill="#f6ea28"/>
<rect x="132.7" y="137.42" width="2.0" height="10.14" fill="#7aaade"/>
<rect x="134.7" y="137.42" width="5.0" height="10.14" fill="#f6ea28"/>
<rect x="142.7" y="137.42" width="2.5" height="10.14" fill="#bcd652"/>
<rect x="146.7" y="137.42" width="2.5" height="10.14" fill="#bcd652"/>
<rect x="154.7" y="137.42" width="2.0" height="10.14" fill="#bcd652"/>
<rect x="156.7" y="137.42" width="3.0" height="10.14" fill="#7aaade"/>
<rect x="165.2" y="137.42" width="2.0" height="10.14" fill="#7aaade"/>
<rect x="171.2" y="137.42" width="2.5" height="10.14" fill="#7aaade"/>
<rect x="180.2" y="137.42" width="1.5" height="10.14" fill="#f6ea28"/>
<rect x="185.7" y="137.42" width="1.5" height="10.14" fill="#7aaade"/>
<rect x="190.2" y="137.42" width="2.5" height="10.14" fill="#7aaade"/>
<rect x="193.2" y="137.42" width="3.5" height="10.14" fill="#bcd652"/>
<rect x="198.2" y="137.42" width="5.0" height="10.14" fill="#f6ea28"/>
<rect x="203.2" y="137.42" width="1.0" height="10.14" fill="#bcd652"/>
<rect x="204.2" y="137.42" width="0.5" height="10.14" fill="#f6ea28"/>
<rect x="205.2" y="137.42" width="4.0" height="10.14" fill="#bcd652"/>
<rect x="213.7" y="137.42" width="2.0" height="10.14" fill="#7aaade"/>
<rect x="215.7" y="137.42" width="1.0" height="10.14" fill="#bcd652"/>
<rect x="219.7" y="137.42" width="1.5" height="10.14" fill="#f6ea28"/>
<rect x="222.7" y="137.42" width="1.5" height="10.14" fill="#7aaade"/>
<rect x="225.7" y="137.42" width="2.5" height="10.14" fill="#bcd652"/>
<rect x="229.7" y="137.42" width="4.0" height="10.14" fill="#7aaade"/>
<rect x="233.7" y="137.42" width="0.5" height="10.14" fill="#bcd652"/>
<rect x="239.2" y="137.42" width="1.5" height="10.14" fill="#bcd652"/>
<rect x="243.7" y="137.42" width="1.5" height="10.14" fill="#7aaade"/>
<rect x="246.7" y="137.42" width="2.5" height="10.14" fill="#7aaade"/>
<rect x="253.7" y="137.42" width="1.5" height="10.14" fill="#bcd652"/>
<rect x="259.2" y="137.42" width="2.5" height="10.14" fill="#7aaade"/>
<rect x="263.2" y="137.42" width="2.0" height="10.14" fill="#7aaade"/>
<rect x="17.2" y="147.56" width="9.0" height="10.14" fill="#f6ea28"/>
<rect x="26.2" y="147.56" width="1.5" height="10.14" fill="#bcd652"/>
<rect x="27.7" y="147.56" width="1.5" height="10.14" fill="#f6ea28"/>
<rect x="29.2" y="147.56" width="2.5" height="10.14" fill="#bcd652"/>
<rect x="31.7" y="147.56" width="0.5" height="10.14" fill="#f6ea28"/>
<rect x="32.2" y="147.56" width="1.0" height="10.14" fill="#bcd652"/>
<rect x="34.2" y="147.56" width="0.5" height="10.14" fill="#f6ea28"/>
<rect x="35.7" y="147.56" width="8.5" height="10.14" fill="#f6ea28"/>
<rect x="44.2" y="147.56" width="1.0" height="10.14" fill="#bcd652"/>
<rect x="45.2" y="147.56" width="10.5" height="10.14" fill="#f6ea28"/>
<rect x="55.7" y="147.56" width="1.5" height="10.14" fill="#bcd652"/>
<rect x="58.2" y="147.56" width="4.5" height="10.14" fill="#f6ea28"/>
<rect x="62.7" y="147.56" width="1.0" height="10.14" fill="#bcd652"/>
<rect x="63.7" y="147.56" width="4.5" height="10.14" fill="#f6ea28"/>
<rect x="68.2" y="147.56" width="1.5" height="10.14" fill="#bcd652"/>
<rect x="69.7" y="147.56" width="2.5" height="10.14" fill="#f6ea28"/>
<rect x="72.2" y="147.56" width="1.0" height="10.14" fill="#bcd652"/>
<rect x="73.2" y="147.56" width="5.5" height="10.14" fill="#f6ea28"/>
<rect x="78.7" y="147.56" width="1.5" height="10.14" fill="#bcd652"/>
<rect x="80.2" y="147.56" width="1.0" height="10.14" fill="#f6ea28"/>
<rect x="81.2" y="147.56" width="0.5" height="10.14" fill="#7aaade"/>
<rect x="81.7" y="147.56" width="1.0" height="10.14" fill="#bcd652"/>
<rect x="82.7" y="147.56" width="1.5" height="10.14" fill="#7aaade"/>
<rect x="84.2" y="147.56" width="8.5" height="10.14" fill="#f6ea28"/>
<rect x="92.7" y="147.56" width="1.0" height="10.14" fill="#bcd652"/>
<rect x="93.7" y="147.56" width="2.5" height="10.14" fill="#f6ea28"/>
<rect x="96.2" y="147.56" width="1.5" height="10.14" fill="#bcd652"/>
<rect x="97.7" y="147.56" width="2.0" height="10.14" fill="#f6ea28"/>
<rect x="99.7" y="147.56" width="2.0" height="10.14" fill="#bcd652"/>
<rect x="101.7" y="147.56" width="2.5" height="10.14" fill="#f6ea28"/>
<rect x="104.2" y="147.56" width="1.0" height="10.14" fill="#bcd652"/>
<rect x="105.2" y="147.56" width="8.0" height="10.14" fill="#f6ea28"/>
<rect x="113.2" y="147.56" width="1.5" height="10.14" fill="#bcd652"/>
<rect x="114.7" y="147.56" width="3.5" height="10.14" fill="#f6ea28"/>
<rect x="118.2" y="147.56" width="1.5" height="10.14" fill="#bcd652"/>
<rect x="119.7" y="147.56" width="4.0" height="10.14" fill="#f6ea28"/>
<rect x="123.7" y="147.56" width="2.0" height="10.14" fill="#7aaade"/>
<rect x="125.7" y="147.56" width="14.0" height="10.14" fill="#f6ea28"/>
<rect x="144.2" y="147.56" width="2.5" height="10.14" fill="#bcd652"/>
<rect x="152.7" y="147.56" width="4.0" height="10.14" fill="#7aaade"/>
<rect x="161.2" y="147.56" width="2.0" height="10.14" fill="#60aca0"/>
<rect x="163.2" y="147.56" width="1.5" height="10.14" fill="#7aaade"/>
<rect x="168.7" y="147.56" width="2.0" height="10.14" fill="#7aaade"/>
<rect x="171.2" y="147.56" width="1.5" height="10.14" fill="#bcd652"/>
<rect x="173.7" y="147.56" width="3.0" height="10.14" fill="#7aaade"/>
<rect x="177.7" y="147.56" width="1.5" height="10.14" fill="#bcd652"/>
<rect x="182.7" y="147.56" width="2.5" height="10.14" fill="#bcd652"/>
<rect x="187.7" y="147.56" width="1.5" height="10.14" fill="#7aaade"/>
<rect x="189.7" y="147.56" width="2.0" height="10.14" fill="#7aaade"/>
<rect x="196.7" y="147.56" width="0.5" height="10.14" fill="#bcd652"/>
<rect x="197.2" y="147.56" width="2.0" height="10.14" fill="#7aaade"/>
<rect x="200.7" y="147.56" width="2.5" height="10.14" fill="#bcd652"/>
<rect x="204.7" y="147.56" width="2.5" height="10.14" fill="#7aaade"/>
<rect x="209.2" y="147.56" width="4.5" height="10.14" fill="#7aaade"/>
<rect x="217.2" y="147.56" width="3.0" height="10.14" fill="#7aaade"/>
<rect x="221.7" y="147.56" width="2.5" height="10.14" fill="#bcd652"/>
<rect x="226.7" y="147.56" width="1.5" height="10.14" fill="#bcd652"/>
<rect x="239.2" y="147.56" width="2.0" height="10.14" fill="#7aaade"/>
<rect x="241.2" y="147.56" width="4.0" height="10.14" fill="#bcd652"/>
<rect x="246.2" y="147.56" width="1.5" height="10.14" fill="#bcd652"/>
<rect x="256.7" y="147.56" width="2.5" height="10.14" fill="#7aaade"/>
<rect x="263.2" y="147.56" width="2.0" height="10.14" fill="#7aaade"/>
<rect x="16.2" y="36.0" width="1" height="121.69999999999999" fill="#3c3a70"/>
</g>
<rect x="7.40" y="93.5" width="3.2" height="3.4" fill="#000"/>
<rect x="14.48" y="93.5" width="3.2" height="3.4" fill="#000"/>
<rect x="21.57" y="93.5" width="3.2" height="3.4" fill="#000"/>
<rect x="28.65" y="93.5" width="3.2" height="3.4" fill="#000"/>
<rect x="35.73" y="93.5" width="3.2" height="3.4" fill="#000"/>
<rect x="42.81" y="93.5" width="3.2" height="3.4" fill="#000"/>
<rect x="49.90" y="93.5" width="3.2" height="3.4" fill="#000"/>
<rect x="56.98" y="93.5" width="3.2" height="3.4" fill="#000"/>
<rect x="64.06" y="93.5" width="3.2" height="3.4" fill="#000"/>
<rect x="71.15" y="93.5" width="3.2" height="3.4" fill="#000"/>
<rect x="78.23" y="93.5" width="3.2" height="3.4" fill="#000"/>
<rect x="85.31" y="93.5" width="3.2" height="3.4" fill="#000"/>
<rect x="92.40" y="93.5" width="3.2" height="3.4" fill="#000"/>
<rect x="99.48" y="93.5" width="3.2" height="3.4" fill="#000"/>
<rect x="106.56" y="93.5" width="3.2" height="3.4" fill="#000"/>
<rect x="113.65" y="93.5" width="3.2" height="3.4" fill="#000"/>
<rect x="120.73" y="93.5" width="3.2" height="3.4" fill="#000"/>
<rect x="127.81" y="93.5" width="3.2" height="3.4" fill="#000"/>
<rect x="134.89" y="93.5" width="3.2" height="3.4" fill="#000"/>
<rect x="141.98" y="93.5" width="3.2" height="3.4" fill="#000"/>
<rect x="149.06" y="93.5" width="3.2" height="3.4" fill="#000"/>
<rect x="156.14" y="93.5" width="3.2" height="3.4" fill="#000"/>
<rect x="163.23" y="93.5" width="3.2" height="3.4" fill="#000"/>
<rect x="170.31" y="93.5" width="3.2" height="3.4" fill="#000"/>
<rect x="177.39" y="93.5" width="3.2" height="3.4" fill="#000"/>
<rect x="184.48" y="93.5" width="3.2" height="3.4" fill="#000"/>
<rect x="191.56" y="93.5" width="3.2" height="3.4" fill="#000"/>
<rect x="198.64" y="93.5" width="3.2" height="3.4" fill="#000"/>
<rect x="205.72" y="93.5" width="3.2" height="3.4" fill="#000"/>
<rect x="212.81" y="93.5" width="3.2" height="3.4" fill="#000"/>
<rect x="219.89" y="93.5" width="3.2" height="3.4" fill="#000"/>
<rect x="226.97" y="93.5" width="3.2" height="3.4" fill="#000"/>
<rect x="234.06" y="93.5" width="3.2" height="3.4" fill="#000"/>
<rect x="241.14" y="93.5" width="3.2" height="3.4" fill="#000"/>
<rect x="248.22" y="93.5" width="3.2" height="3.4" fill="#000"/>
<rect x="255.31" y="93.5" width="3.2" height="3.4" fill="#000"/>
<rect x="262.39" y="93.5" width="3.2" height="3.4" fill="#000"/>
<!-- Venn -->
<defs><clipPath id="cpP"><ellipse cx="393.8" cy="86" rx="85.3" ry="85.8"/></clipPath><clipPath id="cpY"><ellipse cx="435" cy="87.5" rx="84.6" ry="86"/></clipPath></defs>
<ellipse cx="393.8" cy="86" rx="85.3" ry="85.8" fill="#8e87bf" stroke="#4a4290" stroke-width="0.9"/>
<ellipse cx="435" cy="87.5" rx="84.6" ry="86" fill="#f6f08c" stroke="#ece44e" stroke-width="1.2"/>
<g clip-path="url(#cpP)"><ellipse cx="435" cy="87.5" rx="84.6" ry="86" fill="#cac87c" stroke="#e2dc40" stroke-width="1.3"/></g>
<g clip-path="url(#cpY)"><ellipse cx="393.8" cy="86" rx="85.3" ry="85.8" fill="none" stroke="#9a965e" stroke-width="0.9"/></g>
<g font-family="Liberation Sans" font-weight="bold" fill="#111" stroke="#111" stroke-width="0.45" font-size="12" text-anchor="middle">
<text x="330" y="83.3">IMAT</text><text x="330" y="98">450</text><text x="330" y="112.8">3.6%</text>
<text x="417.8" y="83.3">12,137</text><text x="417.8" y="98">total</text><text x="417.8" y="112.8">genes</text>
<text x="497" y="83.3">SAT</text><text x="497" y="98">462</text><text x="497" y="112.8">3.7%</text>
</g>
<!-- legend -->
<rect x="18.8" y="182.3" width="7.7" height="3.4" fill="#5571a6"/><rect x="27.5" y="182.3" width="7.7" height="3.4" fill="#ec8630"/>
<text x="37.2" y="186.2" font-family="Liberation Serif" font-size="5.4" fill="#2a2a2a" textLength="23.5" lengthAdjust="spacingAndGlyphs">FDR ≤ 0.05</text>
<rect x="68.5" y="182.3" width="7.3" height="3.4" fill="#b6bad7"/><rect x="76.5" y="182.3" width="7.7" height="3.4" fill="#f8c77e"/>
<text x="86.5" y="186.2" font-family="Liberation Serif" font-size="5.4" fill="#2a2a2a" textLength="23.5" lengthAdjust="spacingAndGlyphs">FDR &gt; 0.05</text>
<rect x="197.70" y="200.00" width="187.27" height="7.9" fill="#5571a6"/>
<text x="195.10" y="205.60" text-anchor="end" class="lb">Muscle contraction</text>
<rect x="197.70" y="209.05" width="183.19" height="7.9" fill="#5571a6"/>
<text x="195.10" y="214.65" text-anchor="end" class="lb">Striated Muscle Contraction</text>
<rect x="197.70" y="218.10" width="120.54" height="7.9" fill="#b6bad7"/>
<text x="195.10" y="223.70" text-anchor="end" class="lb">Glucose metabolism</text>
<rect x="197.70" y="227.15" width="120.54" height="7.9" fill="#b6bad7"/>
<text x="195.10" y="232.75" text-anchor="end" class="lb">Gluconeogenesis</text>
<rect x="197.70" y="236.20" width="85.81" height="7.9" fill="#b6bad7"/>
<text x="195.10" y="241.80" text-anchor="end" class="lb">DNA Double-Strand Break Repair</text>
<rect x="197.70" y="245.25" width="85.81" height="7.9" fill="#b6bad7"/>
<text x="195.10" y="250.85" text-anchor="end" class="lb">Homology Directed Repair</text>
<rect x="197.70" y="254.30" width="85.81" height="7.9" fill="#b6bad7"/>
<text x="195.10" y="259.90" text-anchor="end" class="lb">HDR through Homologous Recombination (HRR) or Single Strand Annealing (...</text>
<rect x="197.70" y="263.35" width="84.44" height="7.9" fill="#b6bad7"/>
<text x="195.10" y="268.95" text-anchor="end" class="lb">Signaling by Rho GTPases</text>
<rect x="197.70" y="272.40" width="83.08" height="7.9" fill="#b6bad7"/>
<text x="195.10" y="278.00" text-anchor="end" class="lb">Complement cascade</text>
<rect x="197.70" y="281.45" width="66.40" height="7.9" fill="#b6bad7"/>
<text x="195.10" y="287.05" text-anchor="end" class="lb">Cell surface interactions at the vascular wall</text>
<rect x="73.76" y="290.50" width="123.94" height="7.9" fill="#f8c77e"/>
<text x="201.70" y="296.10" class="lb">Transcriptional regulation by RUNX2</text>
<rect x="71.71" y="299.55" width="125.98" height="7.9" fill="#f8c77e"/>
<text x="201.70" y="305.15" class="lb">Signaling by VEGF</text>
<rect x="71.03" y="308.60" width="126.67" height="7.9" fill="#f8c77e"/>
<text x="201.70" y="314.20" class="lb">Immunoregulatory interactions between a Lymphoid and a non-Lymphoid cell</text>
<rect x="69.67" y="317.65" width="128.03" height="7.9" fill="#f8c77e"/>
<text x="201.70" y="323.25" class="lb">Glycosaminoglycan metabolism</text>
<rect x="68.99" y="326.70" width="128.71" height="7.9" fill="#f8c77e"/>
<text x="201.70" y="332.30" class="lb">TP53 Regulates Transcription of Genes Involved in G2 Cell Cycle Arrest</text>
<rect x="66.95" y="335.75" width="130.75" height="7.9" fill="#f8c77e"/>
<text x="201.70" y="341.35" class="lb">Neutrophil degranulation</text>
<rect x="65.59" y="344.80" width="132.11" height="7.9" fill="#f8c77e"/>
<text x="201.70" y="350.40" class="lb">Post-translational modification: synthesis of GPI-anchored proteins</text>
<rect x="64.22" y="353.85" width="133.48" height="7.9" fill="#f8c77e"/>
<text x="201.70" y="359.45" class="lb">Mitotic G1-G1/S phases</text>
<rect x="50.60" y="362.90" width="147.10" height="7.9" fill="#ec8630"/>
<text x="201.70" y="368.50" class="lb">Cytokine Signaling in Immune system</text>
<rect x="39.71" y="371.95" width="157.99" height="7.9" fill="#ec8630"/>
<text x="201.70" y="377.55" class="lb">Immune System</text>
<line x1="27.45" y1="381.5" x2="402.00" y2="381.5" stroke="#555" stroke-width="0.8"/>
<line x1="27.45" y1="381.5" x2="27.45" y2="383.3" stroke="#555" stroke-width="0.7"/>
<text x="27.45" y="388.9" text-anchor="middle" class="tk">-2.5</text>
<line x1="61.50" y1="381.5" x2="61.50" y2="383.3" stroke="#555" stroke-width="0.7"/>
<text x="61.50" y="388.9" text-anchor="middle" class="tk">-2.0</text>
<line x1="95.55" y1="381.5" x2="95.55" y2="383.3" stroke="#555" stroke-width="0.7"/>
<text x="95.55" y="388.9" text-anchor="middle" class="tk">-1.5</text>
<line x1="129.60" y1="381.5" x2="129.60" y2="383.3" stroke="#555" stroke-width="0.7"/>
<text x="129.60" y="388.9" text-anchor="middle" class="tk">-1.0</text>
<line x1="163.65" y1="381.5" x2="163.65" y2="383.3" stroke="#555" stroke-width="0.7"/>
<text x="163.65" y="388.9" text-anchor="middle" class="tk">-0.5</text>
<line x1="197.70" y1="381.5" x2="197.70" y2="383.3" stroke="#555" stroke-width="0.7"/>
<text x="197.70" y="388.9" text-anchor="middle" class="tk">0.0</text>
<line x1="231.75" y1="381.5" x2="231.75" y2="383.3" stroke="#555" stroke-width="0.7"/>
<text x="231.75" y="388.9" text-anchor="middle" class="tk">0.5</text>
<line x1="265.80" y1="381.5" x2="265.80" y2="383.3" stroke="#555" stroke-width="0.7"/>
<text x="265.80" y="388.9" text-anchor="middle" class="tk">1.0</text>
<line x1="299.85" y1="381.5" x2="299.85" y2="383.3" stroke="#555" stroke-width="0.7"/>
<text x="299.85" y="388.9" text-anchor="middle" class="tk">1.5</text>
<line x1="333.90" y1="381.5" x2="333.90" y2="383.3" stroke="#555" stroke-width="0.7"/>
<text x="333.90" y="388.9" text-anchor="middle" class="tk">2.0</text>
<line x1="367.95" y1="381.5" x2="367.95" y2="383.3" stroke="#555" stroke-width="0.7"/>
<text x="367.95" y="388.9" text-anchor="middle" class="tk">2.5</text>
<line x1="402.00" y1="381.5" x2="402.00" y2="383.3" stroke="#555" stroke-width="0.7"/>
<text x="402.00" y="388.9" text-anchor="middle" class="tk">3.0</text>
<text x="197.70" y="393.8" text-anchor="middle" class="lb">Normalized Enrichment Score</text>
</svg>
</body></html>
